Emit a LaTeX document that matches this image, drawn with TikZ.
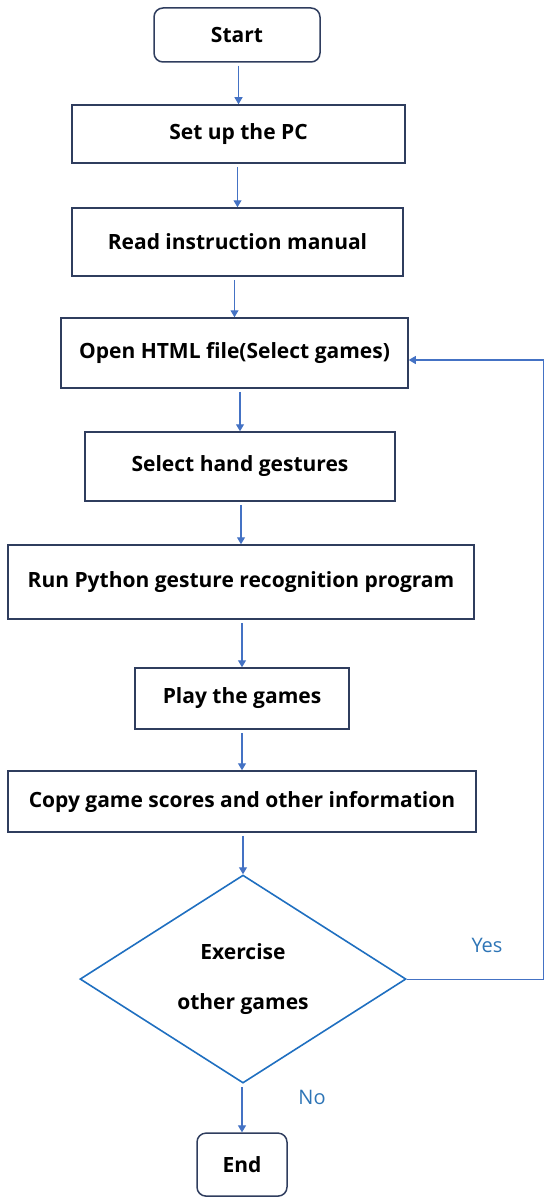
\documentclass[tikz,border=0pt]{standalone}
\usepackage{fontspec}
\setmainfont{Open Sans}
\usetikzlibrary{shapes.geometric,arrows.meta,positioning}

\definecolor{boxline}{HTML}{2F3D5E}
\definecolor{arrline}{HTML}{4472C4}
\definecolor{dialine}{HTML}{1F6FC0}
\definecolor{labtxt}{HTML}{2E75B6}

\begin{document}
\begin{tikzpicture}[
  x=1pt, y=-1pt,
  node distance = 42.5pt,
  proc/.style   = {draw=boxline, line width=1.5pt, inner sep=0pt,
                   align=center, font=\fontsize{21}{25}\selectfont\bfseries},
  term/.style   = {proc, rounded corners=9pt},
  decide/.style = {diamond, draw=dialine, line width=1.6pt, inner sep=0pt,
                   shape aspect=1.6, minimum width=326pt, minimum height=208pt,
                   align=center, font=\fontsize{21}{25}\selectfont\bfseries},
  arr/.style    = {-{Triangle[length=7pt,width=8pt]}, draw=arrline,
                   line width=1.1pt, shorten <=3pt},
  ans/.style    = {font=\fontsize{20}{24}\selectfont, text=labtxt},
]
\useasboundingbox (0,0) rectangle (550,1204);

%% ─── nodes ────────────────────────────────────────────────────────────────
\node[term, minimum width=166pt, minimum height=54pt] (start) at (237,35) {Start};

\node[proc, below=41.5pt of start, xshift=1.5pt,
      minimum width=333pt, minimum height=58pt] (setup) {Set up the PC};

\node[proc, below=43.5pt of setup, xshift=-1pt,
      minimum width=331pt, minimum height=68pt] (read) {Read instruction manual};

\node[proc, below=40.5pt of read, xshift=-3pt,
      minimum width=347pt, minimum height=70pt] (open) {Open HTML file(Select games)};

\node[proc, below=of open, xshift=5.5pt,
      minimum width=310pt, minimum height=69pt] (gest) {Select hand gestures};

\node[proc, below=of gest, xshift=1pt,
      minimum width=466pt, minimum height=74pt] (run) {Run Python gesture recognition program};

\node[proc, below=47.5pt of run, xshift=1pt,
      minimum width=214pt, minimum height=61pt] (play) {Play the games};

\node[proc, below=40.5pt of play,
      minimum width=468pt, minimum height=61pt] (copy) {Copy game scores and other information};

\node[decide, below=41.5pt of copy, xshift=1pt] (ask) {Exercise\\[25pt]other games};

\node[term, below=48.5pt of ask, xshift=-1pt,
      minimum width=90pt, minimum height=63pt] (stop) {End};

%% ─── main flow arrows ─────────────────────────────────────────────────────
\foreach \a/\b in {start/setup, setup/read, read/open, open/gest, gest/run,
                   run/play, play/copy, copy/ask, ask/stop}
  \draw[arr] (\b.north |- \a.south) -- (\b.north);

%% ─── loop back (right side) ───────────────────────────────────────────────
\draw[arr, shorten <=0pt]
  (ask.east) -- ++(137,0) coordinate (loopr)
  |- ([yshift=-7pt]open.east);

\node[ans] (yes) at (487,945) {Yes};
\node[ans] (no)  at (312,1097) {No};

\end{tikzpicture}
\end{document}
